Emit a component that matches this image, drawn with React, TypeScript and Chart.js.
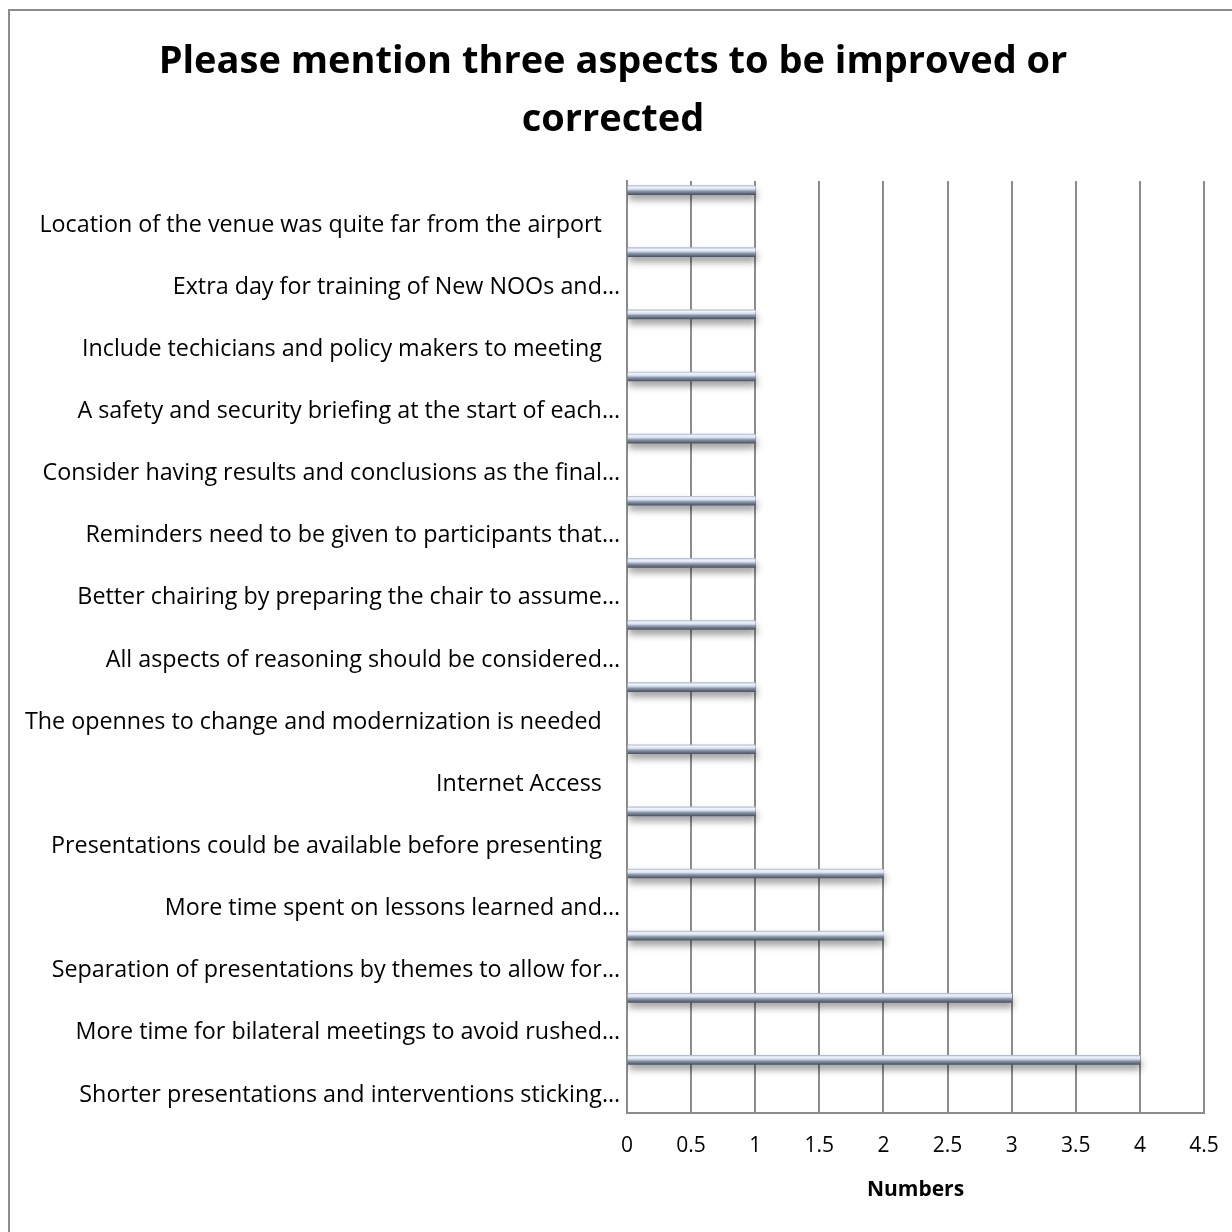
import React, { useEffect, useRef } from "react";
import { Chart, registerables } from "chart.js";

Chart.register(...registerables);

const TITLE_LINES = ["Please mention three aspects to be improved or", "corrected"];
const X_TITLE = "Numbers";

const CATEGORIES = [
  "Location of the venue was quite far from the airport   ",
  "Extra day for training of New NOOs and…",
  "Include techicians and policy makers to meeting   ",
  "A safety and security briefing at the start of each…",
  "Consider having results and conclusions as the final…",
  "Reminders need to be given to participants that…",
  "Better chairing by preparing the chair to assume…",
  "All aspects of reasoning should be considered…",
  "The opennes to change and modernization is needed   ",
  "Internet Access   ",
  "Presentations could be available before presenting   ",
  "More time spent on lessons learned and…",
  "Separation of presentations by themes to allow for…",
  "More time for bilateral meetings to avoid rushed…",
  "Shorter presentations and interventions sticking…",
];

const VALUES = [1, 1, 1, 1, 1, 1, 1, 1, 1, 1, 1, 2, 2, 3, 4];

const X_MIN = 0;
const X_MAX = 4.5;
const X_STEP = 0.5;

const FONT = "'Open Sans', 'Liberation Sans', sans-serif";
const GRID = "#8c8c8c";
const BAR_H = 9;
const PAD_LEFT = 22;

const depthShift = {
  id: "depthShift",
  beforeDatasetsDraw(chart: any) {
    const ctx = chart.ctx;
    ctx.save();
    ctx.translate(0, -22);
    ctx.shadowColor = "rgba(0,0,0,0.38)";
    ctx.shadowBlur = 7;
    ctx.shadowOffsetY = 5;
    ctx.shadowOffsetX = 1;
  },
  afterDatasetsDraw(chart: any) {
    chart.ctx.restore();
  },
};

function barGradient(context: any) {
  const chart = context.chart;
  const yScale = chart.scales && chart.scales.y;
  if (!yScale || !chart.chartArea || context.type !== "data") return "#8a96aa";
  const cy = yScale.getPixelForValue(context.dataIndex);
  const top = cy - BAR_H / 2;
  const g = chart.ctx.createLinearGradient(0, top, 0, top + BAR_H);
  g.addColorStop(0, "#aebbd0");
  g.addColorStop(0.18, "#f2f6fc");
  g.addColorStop(0.4, "#d6dfeb");
  g.addColorStop(0.62, "#8d98ad");
  g.addColorStop(1, "#4a5466");
  return g;
}

export default function App() {
  const ref = useRef<HTMLCanvasElement | null>(null);

  useEffect(() => {
    if (!ref.current) return;
    const chart = new Chart(ref.current, {
      type: "bar",
      data: {
        labels: CATEGORIES,
        datasets: [
          {
            data: VALUES,
            backgroundColor: barGradient as any,
            borderWidth: 0,
            barThickness: BAR_H,
          },
        ],
      },
      options: {
        indexAxis: "y",
        responsive: false,
        animation: false,
        devicePixelRatio: 1,
        layout: { padding: { left: PAD_LEFT, right: 28, top: 0, bottom: 0 } },
        plugins: {
          legend: { display: false },
          tooltip: { enabled: false },
          title: {
            display: true,
            text: TITLE_LINES,
            color: "#000",
            font: { family: FONT, size: 38, weight: "bold", lineHeight: 58 / 38 },
            padding: { top: 33, bottom: 32 },
          },
        },
        scales: {
          x: {
            type: "linear",
            min: X_MIN,
            max: X_MAX,
            afterFit(scale: any) {
              scale.height = 119;
              scale.paddingLeft = 0;
              scale.paddingRight = 0;
            },
            ticks: {
              stepSize: X_STEP,
              color: "#000",
              padding: 20,
              font: { family: FONT, size: 21 },
              callback: (v: any) => `${Number(v)}`,
            },
            grid: { color: GRID, lineWidth: 2, drawTicks: false },
            border: { color: GRID, width: 2 },
            title: {
              display: true,
              text: X_TITLE,
              color: "#000",
              font: { family: FONT, size: 21, weight: "bold" },
              padding: { top: 0, bottom: 29 },
            },
          },
          y: {
            type: "category",
            afterFit(scale: any) {
              scale.width = 627 - PAD_LEFT;
            },
            ticks: {
              color: "#000",
              padding: 7,
              labelOffset: 13,
              autoSkip: false,
              font: { family: FONT, size: 23.3 },
            },
            grid: { display: false, drawTicks: false },
            border: { color: GRID, width: 2 },
          },
        },
      },
      plugins: [depthShift],
    });
    return () => chart.destroy();
  }, []);

  return (
    <div style={{ position: "fixed", left: 0, top: 0, width: 1232, height: 1232, overflow: "hidden", background: "#fff" }}>
      <canvas ref={ref} width={1232} height={1232} style={{ width: 1232, height: 1232, display: "block" }} />
      <div
        style={{
          position: "absolute",
          left: 8,
          top: 9,
          width: 1300,
          height: 1300,
          borderLeft: "2px solid #8c8c8c",
          borderTop: "2px solid #8c8c8c",
          pointerEvents: "none",
        }}
      />
    </div>
  );
}
